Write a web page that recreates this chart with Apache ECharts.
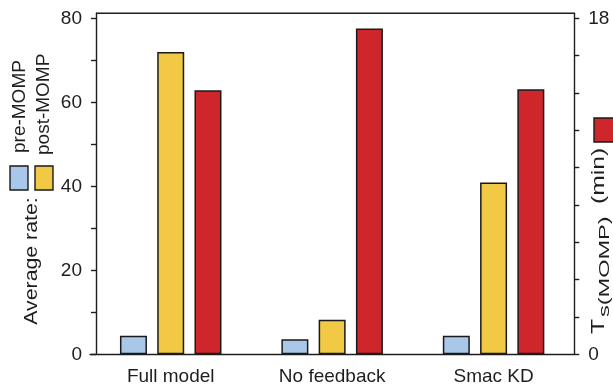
<!DOCTYPE html>
<html>
<head>
<meta charset="utf-8">
<script src="https://cdn.jsdelivr.net/npm/echarts@6/dist/echarts.min.js"></script>
<style>
  html, body { margin: 0; padding: 0; background: #fff; }
  #chart { width: 613px; height: 388px; }
</style>
</head>
<body>
<div id="chart"></div>
<script>
// Data
const categories = ['Full model', 'No feedback', 'Smac KD'];
const preMomp = [4.4, 3.6, 4.4];        // average rate before MOMP
const postMomp = [72.0, 8.2, 40.9];     // average rate after MOMP
const tsMomp = [14.15, 17.45, 14.2];    // Ts(MOMP), minutes (right axis)
const rateTicks = [0, 10, 20, 30, 40, 50, 60, 70, 80];
const rateLabels = [0, 20, 40, 60, 80];
const timeTicks = [0, 2, 4, 6, 8, 10, 12, 14, 16, 18];
const timeLabels = [0, 18];

// Styling
const FONT = '"Liberation Sans", Arial, sans-serif';
const INK = '#1e1e1e';
const EDGE = '#1a1a1a';
const COLOR_PRE = '#a9c7e8';
const COLOR_POST = '#f1c944';
const COLOR_TS = '#cf262b';

const GRID = { left: 90, right: 38.7, top: 13.3, bottom: 33.7 };
const W = 613, H = 388;
const leftAxisX = 96;
const rightAxisX = W - GRID.right;

const chart = echarts.init(document.getElementById('chart'), null, { renderer: 'canvas' });

const barStyle = (color) => ({ color: color, borderColor: EDGE, borderWidth: 1.5 });
const axisLineStyle = { color: INK, width: 1.4 };

const option = {
  animation: false,
  backgroundColor: '#fff',
  grid: GRID,
  xAxis: {
    type: 'category',
    data: categories,
    axisLine: { lineStyle: axisLineStyle },
    axisTick: { show: false },
    axisLabel: { color: INK, fontSize: 19, fontFamily: FONT, margin: 13 }
  },
  yAxis: [
    {
      type: 'value',
      min: 0,
      max: 81.19,
      offset: -(leftAxisX - GRID.left),
      splitLine: { show: false },
      axisLine: { show: true, lineStyle: axisLineStyle },
      axisTick: { show: true, length: 5, lineStyle: axisLineStyle, customValues: rateTicks },
      axisLabel: { color: INK, fontSize: 19, fontFamily: FONT, margin: 14, customValues: rateLabels }
    },
    {
      type: 'value',
      min: 0,
      max: 18.27,
      position: 'right',
      splitLine: { show: false },
      axisLine: { show: true, lineStyle: axisLineStyle },
      axisTick: { show: true, length: 5, lineStyle: axisLineStyle, customValues: timeTicks },
      axisLabel: { color: INK, fontSize: 19, fontFamily: FONT, margin: 14, customValues: timeLabels }
    }
  ],
  series: [
    { name: 'pre-MOMP', type: 'bar', yAxisIndex: 0, data: preMomp, barWidth: 27, barGap: '38%', itemStyle: barStyle(COLOR_PRE) },
    { name: 'post-MOMP', type: 'bar', yAxisIndex: 0, data: postMomp, barWidth: 27, barGap: '38%', itemStyle: barStyle(COLOR_POST) },
    { name: 'Ts(MOMP)', type: 'bar', yAxisIndex: 1, data: tsMomp, barWidth: 27, barGap: '38%', itemStyle: barStyle(COLOR_TS) }
  ],
  graphic: [
    // top frame line between the two value axes
    { type: 'line', silent: true, shape: { x1: leftAxisX, y1: GRID.top, x2: rightAxisX, y2: GRID.top }, style: { stroke: INK, lineWidth: 1.4 } },
    // legend swatches
    { type: 'rect', shape: { x: 10, y: 166, width: 18, height: 24 }, style: { fill: COLOR_PRE, stroke: EDGE, lineWidth: 1.4 } },
    { type: 'rect', shape: { x: 35, y: 166, width: 18, height: 24 }, style: { fill: COLOR_POST, stroke: EDGE, lineWidth: 1.4 } },
    { type: 'rect', shape: { x: 594, y: 118, width: 22, height: 24 }, style: { fill: COLOR_TS, stroke: EDGE, lineWidth: 1.4 } },
    // legend text (vertical)
    { type: 'text', x: 19.5, y: 153, rotation: Math.PI / 2, style: { text: 'pre-MOMP', fill: INK, font: '19px ' + FONT, align: 'left', verticalAlign: 'middle' } },
    { type: 'text', x: 44, y: 155, rotation: Math.PI / 2, style: { text: 'post-MOMP', fill: INK, font: '19px ' + FONT, align: 'left', verticalAlign: 'middle' } },
    { type: 'text', x: 32, y: 261, rotation: Math.PI / 2, scaleX: 1.12, style: { text: 'Average rate:', fill: INK, font: '19px ' + FONT, align: 'center', verticalAlign: 'middle' } },
    // right axis title: T with subscript s(MOMP), then (min)
    { type: 'text', x: 598.5, y: 334, rotation: Math.PI / 2, scaleX: 1.3, style: { text: 'T', fill: INK, font: '19px ' + FONT, align: 'left', verticalAlign: 'middle' } },
    { type: 'text', x: 605, y: 317, rotation: Math.PI / 2, scaleX: 1.68, style: { text: 's(MOMP)', fill: INK, font: '14px ' + FONT, align: 'left', verticalAlign: 'middle' } },
    { type: 'text', x: 598.5, y: 204, rotation: Math.PI / 2, scaleX: 1.3, style: { text: '(min)', fill: INK, font: '19px ' + FONT, align: 'left', verticalAlign: 'middle' } }
  ]
};

chart.setOption(option);
</script>
</body>
</html>
